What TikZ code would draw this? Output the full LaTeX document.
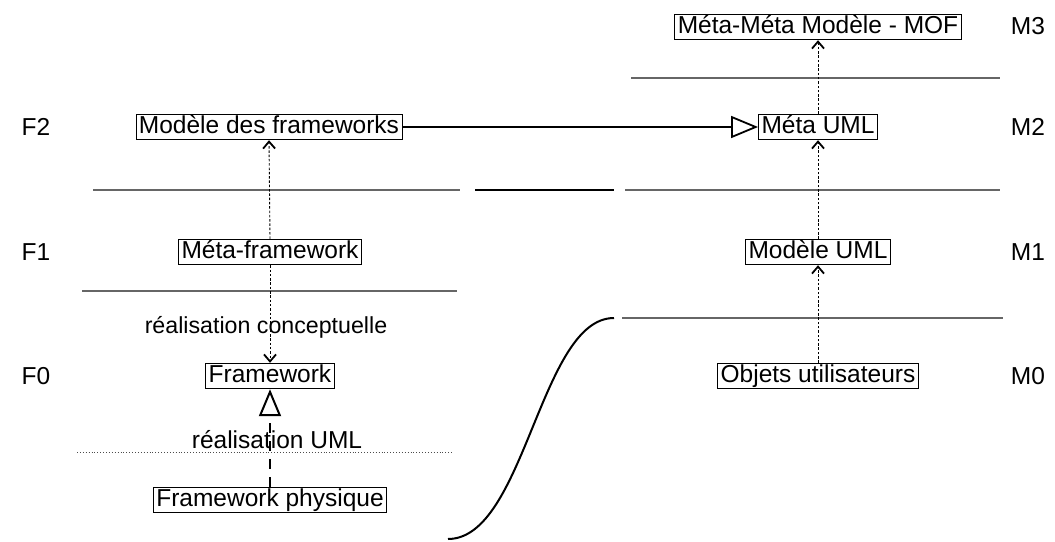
\documentclass[tikz,border=0pt]{standalone}
\usepackage{fontspec}
\setmainfont{Liberation Sans}
\usetikzlibrary{arrows.meta}
\begin{document}
\begin{tikzpicture}[x=1pt,y=-1pt,
  font=\fontsize{24.5}{27}\selectfont,
  box/.style={draw,line width=0.9pt,inner xsep=3pt,inner ysep=1pt,text height=18pt,text depth=5.5pt},
  lbl/.style={inner sep=0pt},
  sep/.style={draw=black!60,line width=1.2pt},
  dotarr/.style={line width=0.9pt,dash pattern=on 2.5pt off 1.8pt,-{Straight Barb[length=7pt,width=12pt,line width=1.8pt]}},
  genarr/.style={line width=1.8pt,-{Triangle[open,length=27pt,width=22pt,line width=1.8pt]}},
  realarr/.style={line width=2.2pt,dash pattern=on 10pt off 8pt,-{Triangle[open,length=27pt,width=22pt,line width=2pt]}}]
\useasboundingbox (0,0) rectangle (1055,541);
% separator lines
\draw[sep] (631,78) -- (1000,78);
\draw[sep] (93,190) -- (460,190);
\draw[line width=2pt] (475,190) -- (614,190);
\draw[sep] (625,190) -- (1000,190);
\draw[sep] (82,291) -- (457,291);
\draw[sep] (622,318) -- (1003,318);
\draw[black!70,line width=0.9pt,dotted] (77,452) -- (453,452);
% curve
\draw[line width=2pt] (448,539) .. controls (525,539) and (540,318) .. (614,318);
% level labels
\node[lbl] (f2) at (36,127) {F2};
\node[lbl] (f1) at (36,252) {F1};
\node[lbl] (f0) at (36,376) {F0};
\node[lbl] (m3) at (1028,26) {M3};
\node[lbl] (m2) at (1028,127) {M2};
\node[lbl] (m1) at (1028,252) {M1};
\node[lbl] (m0) at (1028,376) {M0};
% boxes
\node[box] (mof) at (818,27) {Méta-Méta Modèle - MOF};
\node[box] (muml) at (818,127) {Méta UML};
\node[box] (uml) at (818,252) {Modèle UML};
\node[box] (obj) at (818,376) {Objets utilisateurs};
\node[box] (mfw) at (269,127) {Modèle des frameworks};
\node[box] (metafw) at (270,252) {Méta-framework};
\node[box] (fw) at (270,376) {Framework};
\node[box] (fwp) at (270,500) {Framework physique};
% texts
\node[lbl,font=\fontsize{23.2}{26}\selectfont] (rc) at (266,327) {réalisation conceptuelle};
\node[lbl] (ru) at (277,440) {réalisation UML};
% connectors
\draw[dotarr] (muml.north) -- (mof.south);
\draw[dotarr] (uml.north) -- (muml.south);
\draw[dotarr] (obj.north) -- (uml.south);
\draw[dotarr] (metafw.north) -- (mfw.south);
\draw[dotarr] (metafw.south) -- (fw.north);
\draw[genarr] (mfw.east) -- (muml.west);
\draw[realarr] (fwp.north) -- (fw.south);
\end{tikzpicture}
\end{document}
